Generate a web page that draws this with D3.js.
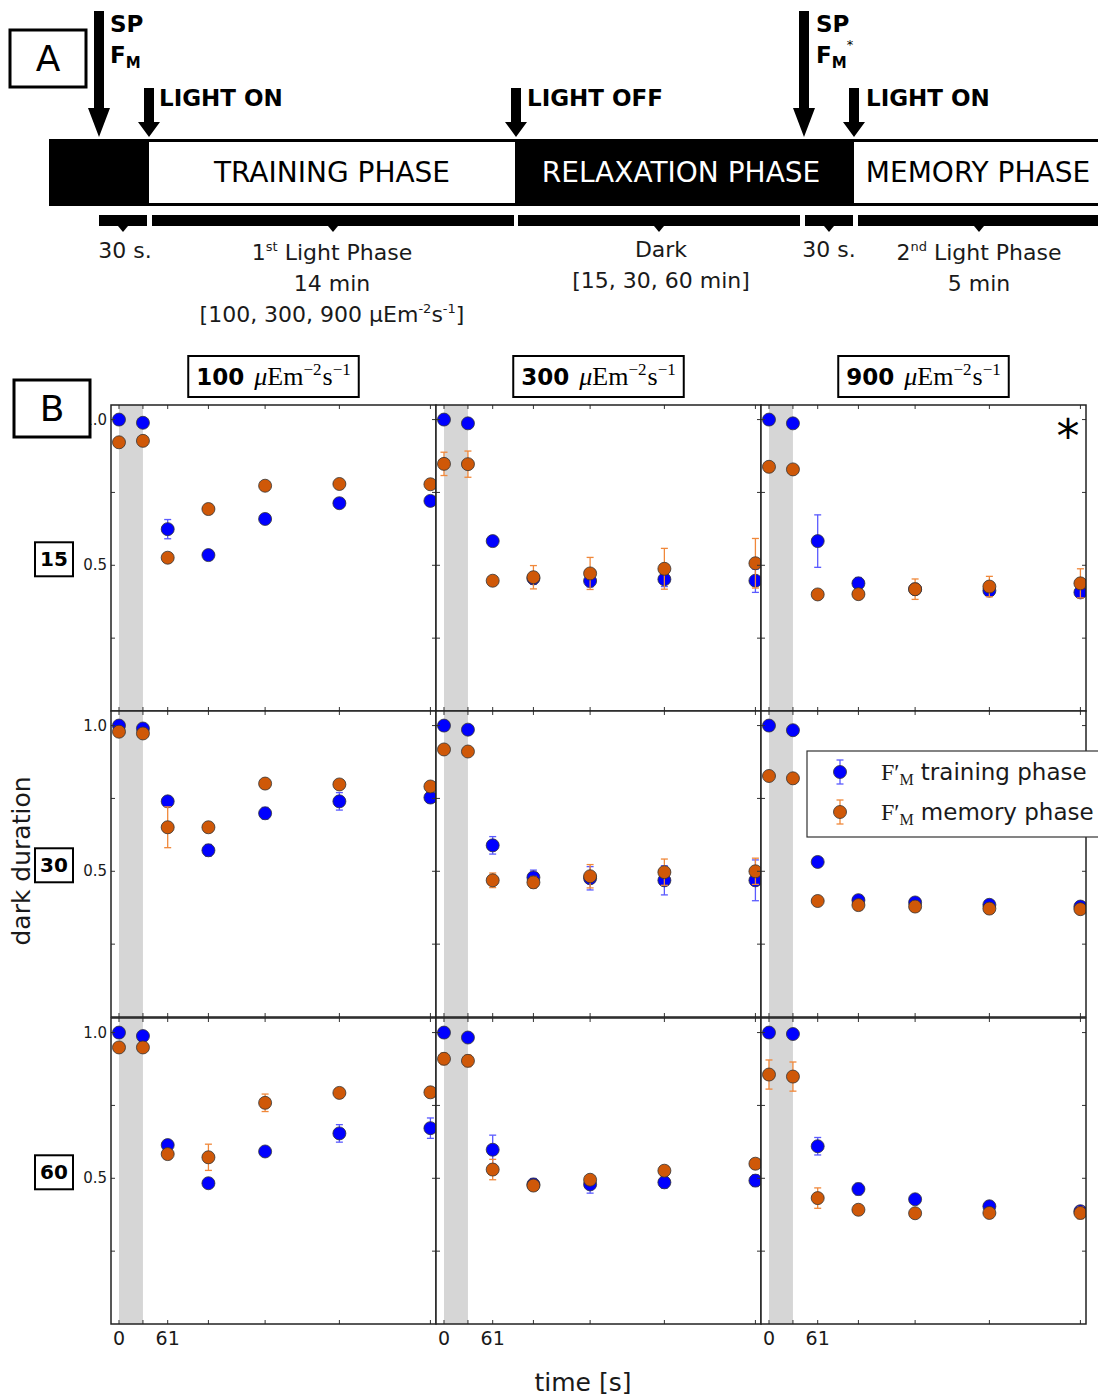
<!DOCTYPE html>
<html>
<head>
<meta charset="utf-8">
<script src="https://cdn.jsdelivr.net/npm/d3@7"></script>
<style>
  body { margin: 0; background: #fff; }
  svg { display: block; }
  text { font-family: "DejaVu Sans", sans-serif; }
</style>
</head>
<body>
<svg id="fig" width="1098" height="1398"></svg>
<script>
// ---- data ----
var times = [0, 30, 61, 112, 183, 276, 390];
var timeLabels = ["0", "", "61", "", "", "", ""];
var yTicks = [0.25, 0.5, 0.75, 1.0];
var yTickLabels = {"0.5": "0.5", "1": "1.0"};
var intensities = ["100", "300", "900"];
var darkDurations = ["15", "30", "60"];

// F'M training phase (blue), one row per light intensity 100/300/900
var train15 = [[1.0, 0.989, 0.624, 0.535, 0.659, 0.713, 0.721],
               [1.0, 0.987, 0.583, 0.455, 0.446, 0.452, 0.447],
               [1.0, 0.987, 0.583, 0.438, 0.418, 0.413, 0.407]];
var train30 = [[1.0, 0.990, 0.740, 0.572, 0.699, 0.740, 0.753],
               [1.0, 0.986, 0.589, 0.479, 0.476, 0.469, 0.469],
               [1.0, 0.984, 0.532, 0.401, 0.393, 0.385, 0.379]];
var train60 = [[1.0, 0.988, 0.614, 0.483, 0.592, 0.654, 0.672],
               [1.0, 0.983, 0.598, 0.479, 0.479, 0.486, 0.492],
               [1.0, 0.995, 0.610, 0.463, 0.428, 0.404, 0.387]];
var trainErr15 = [[0.005, 0.005, 0.033, 0.008, 0.010, 0.015, 0.015],
                  [0.005, 0.005, 0.010, 0.020, 0.020, 0.025, 0.040],
                  [0.005, 0.005, 0.090, 0.020, 0.015, 0.015, 0.010]];
var trainErr30 = [[0.005, 0.005, 0.010, 0.020, 0.020, 0.030, 0.015],
                  [0.005, 0.005, 0.030, 0.025, 0.040, 0.050, 0.070],
                  [0.005, 0.005, 0.010, 0.010, 0.010, 0.010, 0.010]];
var trainErr60 = [[0.005, 0.005, 0.010, 0.010, 0.015, 0.030, 0.035],
                  [0.005, 0.005, 0.050, 0.020, 0.030, 0.020, 0.020],
                  [0.005, 0.005, 0.030, 0.020, 0.010, 0.010, 0.010]];

// F'M memory phase (orange)
var mem15 = [[0.922, 0.927, 0.526, 0.693, 0.773, 0.779, 0.778],
             [0.848, 0.847, 0.447, 0.459, 0.472, 0.488, 0.507],
             [0.838, 0.829, 0.400, 0.401, 0.418, 0.427, 0.438]];
var mem30 = [[0.979, 0.973, 0.651, 0.651, 0.801, 0.798, 0.791],
             [0.918, 0.911, 0.469, 0.462, 0.483, 0.497, 0.500],
             [0.827, 0.819, 0.398, 0.384, 0.379, 0.372, 0.370]];
var mem60 = [[0.949, 0.949, 0.583, 0.572, 0.759, 0.793, 0.795],
             [0.910, 0.903, 0.530, 0.475, 0.495, 0.526, 0.550],
             [0.856, 0.849, 0.432, 0.392, 0.380, 0.381, 0.381]];
var memErr15 = [[0.005, 0.005, 0.008, 0.008, 0.010, 0.010, 0.010],
                [0.040, 0.045, 0.010, 0.040, 0.055, 0.070, 0.085],
                [0.005, 0.005, 0.008, 0.015, 0.035, 0.035, 0.050]];
var memErr30 = [[0.010, 0.010, 0.070, 0.010, 0.010, 0.010, 0.010],
                [0.010, 0.010, 0.025, 0.020, 0.040, 0.045, 0.045],
                [0.005, 0.005, 0.010, 0.010, 0.010, 0.010, 0.010]];
var memErr60 = [[0.005, 0.005, 0.010, 0.045, 0.030, 0.010, 0.010],
                [0.020, 0.020, 0.035, 0.010, 0.010, 0.010, 0.010],
                [0.050, 0.050, 0.035, 0.010, 0.010, 0.010, 0.020]];

var trainRows = [train15, train30, train60];
var trainErrRows = [trainErr15, trainErr30, trainErr60];
var memRows = [mem15, mem30, mem60];
var memErrRows = [memErr15, memErr30, memErr60];

// panel A texts
var phaseNames = ["TRAINING PHASE", "RELAXATION PHASE", "MEMORY PHASE"];
var eventNames = ["LIGHT ON", "LIGHT OFF", "LIGHT ON"];

var BLUE = "#0000ff", ORANGE = "#cf5808";
var svg = d3.select("#fig");

// ---- panel A : protocol diagram ----
var A = svg.append("g");

function arrow(xTip, yTop, head) {
  var yTip = 137, sw = 5, hw = 11;
  var p = d3.path();
  p.moveTo(xTip - sw, yTop); p.lineTo(xTip + sw, yTop);
  p.lineTo(xTip + sw, yTip - head); p.lineTo(xTip + hw, yTip - head);
  p.lineTo(xTip, yTip); p.lineTo(xTip - hw, yTip - head);
  p.lineTo(xTip - sw, yTip - head); p.closePath();
  A.append("path").attr("d", p.toString()).attr("fill", "#000");
}

A.append("rect").attr("x", 10).attr("y", 30).attr("width", 76).attr("height", 57)
  .attr("fill", "#fff").attr("stroke", "#000").attr("stroke-width", 3);
A.append("text").attr("x", 48).attr("y", 71).attr("text-anchor", "middle")
  .attr("font-size", 36).text("A");

A.append("rect").attr("x", 49).attr("y", 139).attr("width", 1060).attr("height", 67).attr("fill", "#000");
var phaseBox = [[148, 516, "#fff", "#000", 332], [516, 853, "#000", "#fff", 681], [853, 1110, "#fff", "#000", 978]];
phaseBox.forEach(function(b, i) {
  if (b[2] === "#fff") {
    A.append("rect").attr("x", b[0] + 1).attr("y", 142).attr("width", b[1] - b[0] - 2).attr("height", 61).attr("fill", "#fff");
  }
  A.append("text").attr("x", b[4]).attr("y", 182).attr("text-anchor", "middle")
    .attr("font-size", 28).attr("fill", b[3]).text(phaseNames[i]);
});

arrow(99, 11, 29);
arrow(149, 88, 15);
arrow(516, 88, 15);
arrow(804, 11, 29);
arrow(854, 88, 15);

[110, 816].forEach(function(x, i) {
  A.append("text").attr("x", x).attr("y", 32).attr("font-size", 23).attr("font-weight", "bold").text("SP");
  var t = A.append("text").attr("x", x).attr("y", 63).attr("font-size", 23).attr("font-weight", "bold");
  t.append("tspan").text("F");
  t.append("tspan").attr("font-size", 15).attr("dy", 5).text("M");
  if (i === 1) t.append("tspan").attr("font-size", 13).attr("font-weight", "normal").attr("dy", -19).text("*");
});
[159, 527, 866].forEach(function(x, i) {
  A.append("text").attr("x", x).attr("y", 106).attr("font-size", 23).attr("font-weight", "bold").text(eventNames[i]);
});

// duration brackets
var brackets = [[99, 147], [152, 514], [518, 800], [805, 853], [858, 1110]];
brackets.forEach(function(b) {
  A.append("rect").attr("x", b[0]).attr("y", 215).attr("width", b[1] - b[0]).attr("height", 11).attr("fill", "#000");
  var c = b[1] > 1098 ? 979 : b[0] + (b[1] - b[0]) / 2;
  A.append("path").attr("d", "M" + (c - 5) + ",226L" + (c + 5) + ",226L" + c + ",232Z").attr("fill", "#000");
});

function plainText(x, y, s) {
  return A.append("text").attr("x", x).attr("y", y).attr("text-anchor", "middle").attr("font-size", 22).attr("fill", "#1a1a1a").text(s);
}
plainText(125, 258, "30 s.");
plainText(829, 257, "30 s.");
var t1 = A.append("text").attr("x", 332).attr("y", 260).attr("text-anchor", "middle").attr("font-size", 22).attr("fill", "#1a1a1a");
t1.append("tspan").text("1");
t1.append("tspan").attr("font-size", 13).attr("dy", -9).text("st");
t1.append("tspan").attr("dy", 9).text(" Light Phase");
plainText(332, 291, "14 min");
var t2 = A.append("text").attr("x", 332).attr("y", 322).attr("text-anchor", "middle").attr("font-size", 22).attr("fill", "#1a1a1a");
t2.append("tspan").text("[100, 300, 900 μEm");
t2.append("tspan").attr("font-size", 13).attr("dy", -9).text("-2");
t2.append("tspan").attr("dy", 9).text("s");
t2.append("tspan").attr("font-size", 13).attr("dy", -9).text("-1");
t2.append("tspan").attr("dy", 9).text("]");
plainText(661, 257, "Dark");
plainText(661, 288, "[15, 30, 60 min]");
var t3 = A.append("text").attr("x", 979).attr("y", 260).attr("text-anchor", "middle").attr("font-size", 22).attr("fill", "#1a1a1a");
t3.append("tspan").text("2");
t3.append("tspan").attr("font-size", 13).attr("dy", -9).text("nd");
t3.append("tspan").attr("dy", 9).text(" Light Phase");
plainText(979, 291, "5 min");

// ---- panel B : 3x3 grid ----
var colX = [111, 436, 761], rowY = [405, 711, 1018];
var PW = 325, PH = 306;
var x = d3.scaleLinear().domain([-10, 397]).range([0, PW]);
var y = d3.scaleLinear().domain([0, 1.05]).range([PH, 0]);
var B = svg.append("g");
var defs = svg.append("defs");
defs.append("clipPath").attr("id", "pclip").append("rect").attr("width", PW).attr("height", PH);

function series(g, vals, errs, fill, errColor) {
  var pts = times.map(function(t, i) { return {t: t, v: vals[i], e: errs[i]}; });
  var eb = g.append("g").attr("stroke", errColor).attr("stroke-width", 1.3);
  pts.forEach(function(d) {
    var cx = x(d.t);
    eb.append("line").attr("x1", cx).attr("x2", cx).attr("y1", y(d.v - d.e)).attr("y2", y(d.v + d.e));
    eb.append("line").attr("x1", cx - 3.5).attr("x2", cx + 3.5).attr("y1", y(d.v - d.e)).attr("y2", y(d.v - d.e));
    eb.append("line").attr("x1", cx - 3.5).attr("x2", cx + 3.5).attr("y1", y(d.v + d.e)).attr("y2", y(d.v + d.e));
  });
  g.append("g").selectAll("circle").data(pts).join("circle")
    .attr("cx", function(d) { return x(d.t); })
    .attr("cy", function(d) { return y(d.v); })
    .attr("r", 6.5).attr("fill", fill).attr("stroke", "#333").attr("stroke-width", 0.8);
}

for (var r = 0; r < 3; r++) {
  for (var c = 0; c < 3; c++) {
    var g = B.append("g").attr("transform", "translate(" + colX[c] + "," + rowY[r] + ")");
    var inner = g.append("g").attr("clip-path", "url(#pclip)");
    inner.append("rect").attr("width", PW).attr("height", PH).attr("fill", "#fff");
    inner.append("rect").attr("x", x(times[0])).attr("width", x(times[1]) - x(times[0]))
      .attr("height", PH).attr("fill", "#d6d6d6");
    series(inner, trainRows[r][c], trainErrRows[r][c], BLUE, "#5a5aff");
    series(inner, memRows[r][c], memErrRows[r][c], ORANGE, "#f0883a");

    // ticks inside on all four sides
    var tk = g.append("g").attr("stroke", "#333").attr("stroke-width", 1);
    times.forEach(function(t) {
      tk.append("line").attr("x1", x(t)).attr("x2", x(t)).attr("y1", PH).attr("y2", PH - 4);
      tk.append("line").attr("x1", x(t)).attr("x2", x(t)).attr("y1", 0).attr("y2", 4);
    });
    yTicks.forEach(function(v) {
      tk.append("line").attr("x1", 0).attr("x2", 4).attr("y1", y(v)).attr("y2", y(v));
      tk.append("line").attr("x1", PW).attr("x2", PW - 4).attr("y1", y(v)).attr("y2", y(v));
    });
    g.append("rect").attr("width", PW).attr("height", PH).attr("fill", "none")
      .attr("stroke", "#222").attr("stroke-width", 1.5);

    if (c === 0) {
      yTicks.forEach(function(v) {
        var lab = yTickLabels[String(v)];
        if (lab) g.append("text").attr("x", -4).attr("y", y(v) + 5).attr("text-anchor", "end")
          .attr("font-size", 15).attr("fill", "#1a1a1a").text(lab);
      });
    }
    if (r === 2) {
      times.forEach(function(t, i) {
        if (timeLabels[i]) g.append("text").attr("x", x(t)).attr("y", PH + 21).attr("text-anchor", "middle")
          .attr("font-size", 19).attr("fill", "#1a1a1a").text(timeLabels[i]);
      });
    }
  }
}

// column titles
intensities.forEach(function(s, c) {
  var cx = colX[c] + PW / 2;
  var tg = svg.append("g");
  var box = tg.append("rect");
  var t = tg.append("text").attr("x", cx).attr("y", 385).attr("text-anchor", "middle").attr("font-size", 23);
  t.append("tspan").attr("font-weight", "bold").text(s);
  t.append("tspan").attr("font-family", "Liberation Serif").attr("font-size", 26).attr("font-style", "italic").attr("dx", 10).text("μ");
  t.append("tspan").attr("font-family", "Liberation Serif").attr("font-size", 26).text("Em");
  t.append("tspan").attr("font-family", "Liberation Serif").attr("font-size", 17).attr("dy", -10).text("−2");
  t.append("tspan").attr("font-family", "Liberation Serif").attr("font-size", 26).attr("dx", 1).attr("dy", 10).text("s");
  t.append("tspan").attr("font-family", "Liberation Serif").attr("font-size", 17).attr("dy", -10).text("−1");
  var bb = t.node().getBBox();
  box.attr("x", bb.x - 8).attr("y", 356).attr("width", bb.width + 16).attr("height", 41)
    .attr("fill", "#fff").attr("stroke", "#000").attr("stroke-width", 2);
});

// row labels
darkDurations.forEach(function(s, r) {
  var cy = rowY[r] + y(0.5) - 6;
  svg.append("rect").attr("x", 35).attr("y", cy - 17).attr("width", 38).attr("height", 34)
    .attr("fill", "#fff").attr("stroke", "#000").attr("stroke-width", 2);
  svg.append("text").attr("x", 54).attr("y", cy + 7).attr("text-anchor", "middle")
    .attr("font-size", 20).attr("font-weight", "bold").text(s);
});

svg.append("text").attr("transform", "translate(30,861) rotate(-90)").attr("text-anchor", "middle")
  .attr("font-size", 25).attr("fill", "#1a1a1a").text("dark duration");
svg.append("text").attr("x", 583).attr("y", 1391).attr("text-anchor", "middle")
  .attr("font-size", 25).attr("fill", "#1a1a1a").text("time [s]");

// asterisk in top right panel
svg.append("text").attr("x", 1068).attr("y", 452).attr("text-anchor", "middle")
  .attr("font-size", 46).text("*");

// legend
var L = svg.append("g");
L.append("rect").attr("x", 807).attr("y", 751).attr("width", 300).attr("height", 86)
  .attr("fill", "#fff").attr("stroke", "#333").attr("stroke-width", 1.2);
var legendItems = [["training phase", BLUE, "#5a5aff"], ["memory phase", ORANGE, "#f0883a"]];
legendItems.forEach(function(d, i) {
  var cy = 772 + i * 40;
  L.append("line").attr("x1", 840).attr("x2", 840).attr("y1", cy - 12).attr("y2", cy + 12).attr("stroke", d[2]).attr("stroke-width", 1.3);
  L.append("line").attr("x1", 836.5).attr("x2", 843.5).attr("y1", cy - 12).attr("y2", cy - 12).attr("stroke", d[2]).attr("stroke-width", 1.3);
  L.append("line").attr("x1", 836.5).attr("x2", 843.5).attr("y1", cy + 12).attr("y2", cy + 12).attr("stroke", d[2]).attr("stroke-width", 1.3);
  L.append("circle").attr("cx", 840).attr("cy", cy).attr("r", 6.5).attr("fill", d[1]).attr("stroke", "#333").attr("stroke-width", 0.8);
  var t = L.append("text").attr("x", 881).attr("y", cy + 8).attr("font-size", 23).attr("fill", "#1a1a1a");
  t.append("tspan").attr("font-family", "Liberation Serif").attr("font-size", 24).text("F′");
  t.append("tspan").attr("font-family", "Liberation Serif").attr("font-size", 16).attr("dy", 5).text("M");
  t.append("tspan").attr("dy", -5).attr("dx", 7).text(d[0]);
});

// B label box
svg.append("rect").attr("x", 14).attr("y", 380).attr("width", 76).attr("height", 57)
  .attr("fill", "#fff").attr("stroke", "#000").attr("stroke-width", 3);
svg.append("text").attr("x", 52).attr("y", 421).attr("text-anchor", "middle").attr("font-size", 36).text("B");
</script>
</body>
</html>
